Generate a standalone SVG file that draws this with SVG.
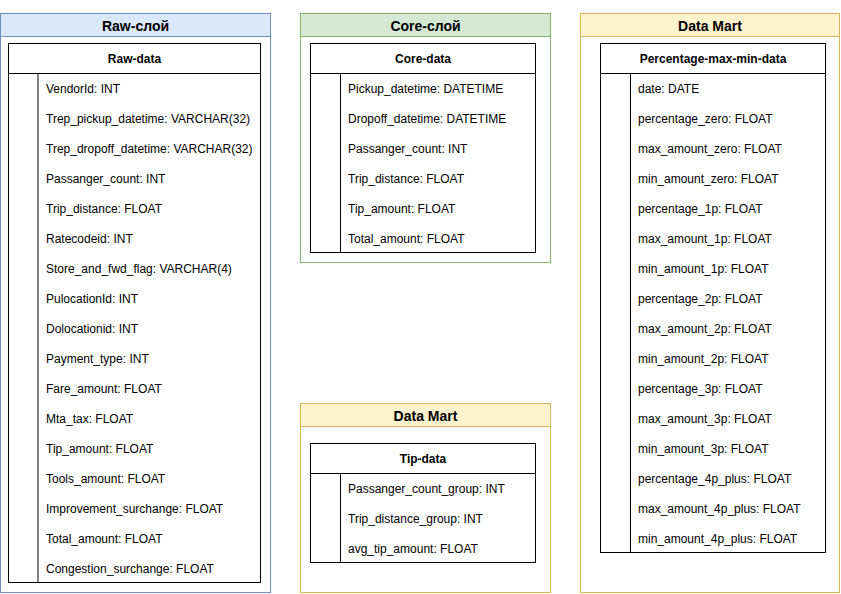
<svg xmlns="http://www.w3.org/2000/svg" width="841" height="594" viewBox="0 0 841 594">
<style>
.ttl{font-family:"Liberation Sans",Arial,sans-serif;font-size:14px;font-weight:bold;fill:#000;text-anchor:middle;dominant-baseline:central}
.th{font-family:"Liberation Sans",Arial,sans-serif;font-size:12px;font-weight:bold;fill:#000;text-anchor:middle;dominant-baseline:central}
.row{font-family:"Liberation Sans",Arial,sans-serif;font-size:12px;fill:#000;dominant-baseline:central}
.tb{fill:#fff;stroke:#000;stroke-width:1}
.ln{stroke:#000;stroke-width:1;fill:none}
.blue{fill:#fff;stroke:#6c8ebf}
.blueh{fill:#dae8fc;stroke:#6c8ebf}
.green{fill:#fff;stroke:#82b366}
.greenh{fill:#d5e8d4;stroke:#82b366}
.yel{fill:#fff;stroke:#d6b656}
.yelh{fill:#fff2cc;stroke:#d6b656}
</style>
<rect width="841" height="594" fill="#fff"/>

<g id="raw-layer">
<rect class="blue" x="0.5" y="13.5" width="270" height="579"/>
<rect class="blueh" x="0.5" y="13.5" width="270" height="23"/>
<text class="ttl" x="135.5" y="25.5">Raw-слой</text>
</g>
<g id="raw-data">
<rect class="tb" x="8.5" y="43.5" width="252" height="539"/>
<line class="ln" x1="8.5" y1="73.5" x2="260.5" y2="73.5"/>
<line class="ln" x1="38" y1="73.5" x2="38" y2="582.5" stroke="#555"/>
<text class="th" x="134.5" y="59">Raw-data</text>
<g transform="translate(0,1)">
<text class="row" x="46" y="88">VendorId: INT</text>
<text class="row" x="46" y="118">Trep_pickup_datetime: VARCHAR(32)</text>
<text class="row" x="46" y="148">Trep_dropoff_datetime: VARCHAR(32)</text>
<text class="row" x="46" y="178">Passanger_count: INT</text>
<text class="row" x="46" y="208">Trip_distance: FLOAT</text>
<text class="row" x="46" y="238">Ratecodeid: INT</text>
<text class="row" x="46" y="268">Store_and_fwd_flag: VARCHAR(4)</text>
<text class="row" x="46" y="298">PulocationId: INT</text>
<text class="row" x="46" y="328">Dolocationid: INT</text>
<text class="row" x="46" y="358">Payment_type: INT</text>
<text class="row" x="46" y="388">Fare_amount: FLOAT</text>
<text class="row" x="46" y="418">Mta_tax: FLOAT</text>
<text class="row" x="46" y="448">Tip_amount: FLOAT</text>
<text class="row" x="46" y="478">Tools_amount: FLOAT</text>
<text class="row" x="46" y="508">Improvement_surchange: FLOAT</text>
<text class="row" x="46" y="538">Total_amount: FLOAT</text>
<text class="row" x="46" y="568">Congestion_surchange: FLOAT</text>
</g>
</g>

<g id="core-layer">
<rect class="green" x="300.5" y="13.5" width="250" height="249"/>
<rect class="greenh" x="300.5" y="13.5" width="250" height="23"/>
<text class="ttl" x="425.5" y="25.5">Core-слой</text>
</g>
<g id="core-data">
<rect class="tb" x="310.5" y="43.5" width="225" height="209"/>
<line class="ln" x1="310.5" y1="73.5" x2="535.5" y2="73.5"/>
<line class="ln" x1="340.5" y1="73.5" x2="340.5" y2="252.5"/>
<text class="th" x="423" y="59">Core-data</text>
<g transform="translate(0,1)">
<text class="row" x="348" y="88">Pickup_datetime: DATETIME</text>
<text class="row" x="348" y="118">Dropoff_datetime: DATETIME</text>
<text class="row" x="348" y="148">Passanger_count: INT</text>
<text class="row" x="348" y="178">Trip_distance: FLOAT</text>
<text class="row" x="348" y="208">Tip_amount: FLOAT</text>
<text class="row" x="348" y="238">Total_amount: FLOAT</text>
</g>
</g>

<g id="mart-tip-layer">
<rect class="yel" x="300.5" y="403.5" width="250" height="189"/>
<rect class="yelh" x="300.5" y="403.5" width="250" height="23"/>
<text class="ttl" x="425.5" y="415.5">Data Mart</text>
</g>
<g id="tip-data">
<rect class="tb" x="310.5" y="443.5" width="225" height="119"/>
<line class="ln" x1="310.5" y1="473.5" x2="535.5" y2="473.5"/>
<line class="ln" x1="340.5" y1="473.5" x2="340.5" y2="562.5"/>
<text class="th" x="423" y="459">Tip-data</text>
<g transform="translate(0,1)">
<text class="row" x="348" y="488">Passanger_count_group: INT</text>
<text class="row" x="348" y="518">Trip_distance_group: INT</text>
<text class="row" x="348" y="548">avg_tip_amount: FLOAT</text>
</g>
</g>

<g id="mart-pct-layer">
<rect class="yel" x="580.5" y="13.5" width="259" height="579"/>
<rect class="yelh" x="580.5" y="13.5" width="259" height="23"/>
<text class="ttl" x="710" y="25.5">Data Mart</text>
</g>
<g id="pct-data">
<rect class="tb" x="600.5" y="43.5" width="225" height="509"/>
<line class="ln" x1="600.5" y1="73.5" x2="825.5" y2="73.5"/>
<line class="ln" x1="630.5" y1="73.5" x2="630.5" y2="552.5"/>
<text class="th" x="713" y="59">Percentage-max-min-data</text>
<g transform="translate(0,1)">
<text class="row" x="638" y="88">date: DATE</text>
<text class="row" x="638" y="118">percentage_zero: FLOAT</text>
<text class="row" x="638" y="148">max_amount_zero: FLOAT</text>
<text class="row" x="638" y="178">min_amount_zero: FLOAT</text>
<text class="row" x="638" y="208">percentage_1p: FLOAT</text>
<text class="row" x="638" y="238">max_amount_1p: FLOAT</text>
<text class="row" x="638" y="268">min_amount_1p: FLOAT</text>
<text class="row" x="638" y="298">percentage_2p: FLOAT</text>
<text class="row" x="638" y="328">max_amount_2p: FLOAT</text>
<text class="row" x="638" y="358">min_amount_2p: FLOAT</text>
<text class="row" x="638" y="388">percentage_3p: FLOAT</text>
<text class="row" x="638" y="418">max_amount_3p: FLOAT</text>
<text class="row" x="638" y="448">min_amount_3p: FLOAT</text>
<text class="row" x="638" y="478">percentage_4p_plus: FLOAT</text>
<text class="row" x="638" y="508">max_amount_4p_plus: FLOAT</text>
<text class="row" x="638" y="538">min_amount_4p_plus: FLOAT</text>
</g>
</g>
<g id="connectors"/>
</svg>
